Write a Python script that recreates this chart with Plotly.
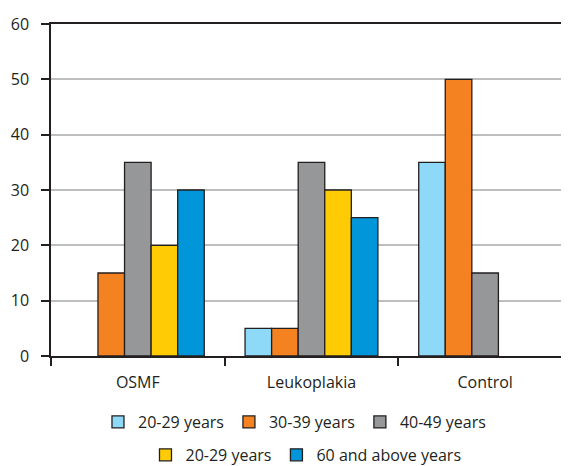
import plotly.graph_objects as go

categories = ["OSMF", "Leukoplakia", "Control"]
series_names = ["20-29 years", "30-39 years", "40-49 years", "20-29 years", "60 and above years"]
s1 = [None, 5, 35]
s2 = [15, 5, 50]
s3 = [35, 35, 15]
s4 = [20, 30, None]
s5 = [30, 25, None]
colors = ["#8ED8F8", "#F58220", "#959799", "#FFCB05", "#0096D9"]
legend_ids = ["legend", "legend", "legend", "legend2", "legend2"]

fig = go.Figure()
for name, vals, col, lg in zip(series_names, [s1, s2, s3, s4, s5], colors, legend_ids):
    fig.add_trace(go.Bar(
        x=categories, y=vals, name=name, legend=lg,
        marker=dict(color=col, line=dict(color="#231F20", width=1.3)),
    ))

font = dict(family="Open Sans, Noto Sans, sans-serif", size=16, color="#231F20")

# page body has an 8px margin, so the figure is 8px smaller than the window
fig.update_layout(
    width=561, height=458,
    margin=dict(l=43, r=0, t=16, b=110, autoexpand=False),
    plot_bgcolor="white", paper_bgcolor="white",
    barmode="group", bargap=0.235, bargroupgap=0,
    font=font,
    legend=dict(orientation="h", x=0.0907, xanchor="left", y=-0.199, yanchor="middle",
                font=font, itemwidth=30, traceorder="normal"),
    legend2=dict(orientation="h", x=0.1824, xanchor="left", y=-0.298, yanchor="middle",
                 font=font, itemwidth=30, traceorder="normal"),
)
fig.update_xaxes(
    range=[-0.5, 2.483], showline=True, linecolor="#231F20", linewidth=1.5, mirror=True,
    ticks="outside", tickson="boundaries", ticklen=8, tickcolor="#231F20", tickwidth=1.5,
    showgrid=False, ticklabelstandoff=11, automargin=False,
)
fig.update_yaxes(
    range=[0, 60], dtick=10, showline=True, linecolor="#231F20", linewidth=1.5,
    ticks="outside", ticklen=8, tickcolor="#231F20", tickwidth=1.5,
    showgrid=True, gridcolor="#BDBEC0", gridwidth=1.5, zeroline=False,
    ticklabelstandoff=9, automargin=False,
)

fig.write_html("out.html")
